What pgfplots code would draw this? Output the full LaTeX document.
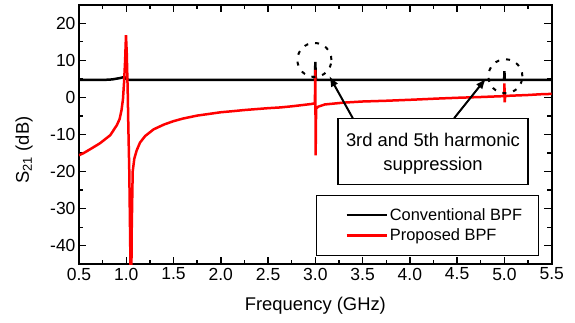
\documentclass[border=0pt]{standalone}
\usepackage{fontspec}
\setmainfont{Liberation Sans}
\usepackage{pgfplots}
\pgfplotsset{compat=1.18}
\usetikzlibrary{arrows.meta}
\begin{document}
\begin{tikzpicture}
\path[use as bounding box] (-79pt,-57.7pt) rectangle (496pt,264.3pt);
\begin{axis}[
  at={(0pt,0pt)}, anchor=south west,
  scale only axis, width=472.7pt, height=259.6pt,
  xmin=0.5, xmax=5.5, ymin=-45, ymax=25,
  xtick={0.5,1.0,...,5.5}, minor x tick num=1,
  ytick={-40,-30,...,20}, minor y tick num=1,
  xticklabel style={/pgf/number format/.cd,fixed,fixed zerofill,precision=1},
  /pgf/number format/assume math mode=true,
  tick label style={font=\fontsize{17.5}{20}\selectfont},
  major tick length=7.5pt, minor tick length=4.3pt,
  axis line style={line width=1.8pt},
  every tick/.style={line width=1.4pt, black},
  xlabel={Frequency (GHz)},
  ylabel={S\textsubscript{21} (dB)},
  label style={font=\fontsize{18.4}{21}\selectfont},
  xlabel style={at={(axis description cs:0.5,0)}, anchor=north, yshift=-29.7pt},
  ylabel style={at={(axis description cs:-0.116,0.44)}, anchor=center},
  legend style={at={(0.501,0.267)}, anchor=north west, draw=black, line width=1pt,
    font=\fontsize{16.4}{19}\selectfont, inner xsep=14pt, inner ysep=11pt,
    row sep=3pt},
  legend cell align=left,
  legend image code/.code={\path (0pt,0pt); \draw[#1,line width=2.6pt] (15pt,0pt) -- (55pt,0pt);},
]
\addplot[black, line width=2.5pt] coordinates {
(0.50,4.7) (0.75,4.7) (0.85,4.85) (0.93,5.2) (0.98,5.5) (1.00,5.0) (1.03,4.7)
(2.995,4.7) (3.000,9.6) (3.005,4.7)
(4.997,4.7) (5.000,7.1) (5.003,4.7) (5.50,4.7)
};
\addlegendentry{Conventional BPF}
\addplot[red, line width=2.5pt] coordinates {
(0.50,-15.6) (0.55,-15.0) (0.616,-14.0) (0.72,-12.4) (0.83,-10.2) (0.90,-7.5)
(0.93,-5.8) (0.95,-3.4) (0.965,-0.5) (0.976,3.8) (0.988,10.0) (0.997,16.8)
(1.005,12.0) (1.015,2.0) (1.022,-8.0) (1.032,-20.0) (1.042,-40.0) (1.05,-60.0)
(1.058,-35.0) (1.068,-20.0) (1.085,-16.5) (1.11,-14.3) (1.145,-12.2) (1.2,-10.4)
(1.29,-8.6) (1.4,-7.3) (1.5,-6.4) (1.6,-5.7) (1.75,-4.9) (2.0,-4.0) (2.13,-3.7)
(2.25,-3.4) (2.5,-2.9) (2.63,-2.7) (2.75,-2.4) (2.95,-1.8) (2.995,-1.6)
(3.000,7.4) (3.003,-15.6) (3.008,-3.0) (3.03,-2.5) (3.1,-1.9) (3.3,-1.4)
(3.5,-1.1) (3.75,-0.9) (4.04,-0.6) (4.3,-0.3) (4.5,-0.1) (4.74,0.1) (4.997,0.35)
(5.000,3.8) (5.003,-1.3) (5.008,0.4) (5.1,0.5) (5.25,0.65) (5.38,0.85) (5.5,0.95)
};
\addlegendentry{Proposed BPF}
\draw[black, line width=1.3pt, fill=white] (axis cs:3.24,-5.68) rectangle (axis cs:5.25,-23.4);
\node[anchor=base, font=\fontsize{18.4}{21}\selectfont, inner sep=0pt] at (axis cs:4.244,-13.35) {3rd and 5th harmonic};
\node[anchor=base, font=\fontsize{18.4}{21}\selectfont, inner sep=0pt] at (axis cs:4.244,-19.84) {suppression};
\draw[line width=2pt, -{Latex[length=11pt,width=8pt]}] (axis cs:3.396,-5.6) -- (axis cs:3.146,5.84);
\draw[line width=2pt, -{Latex[length=11pt,width=8pt]}] (axis cs:4.468,-5.6) -- (axis cs:4.807,5.2);
\draw[line width=2pt, dash pattern=on 4pt off 7pt] (axis cs:2.99,10.1) circle[radius=17pt];
\draw[line width=2pt, dash pattern=on 4pt off 7pt] (axis cs:5.01,5.7) circle[radius=17pt];
\end{axis}
\end{tikzpicture}
\end{document}
